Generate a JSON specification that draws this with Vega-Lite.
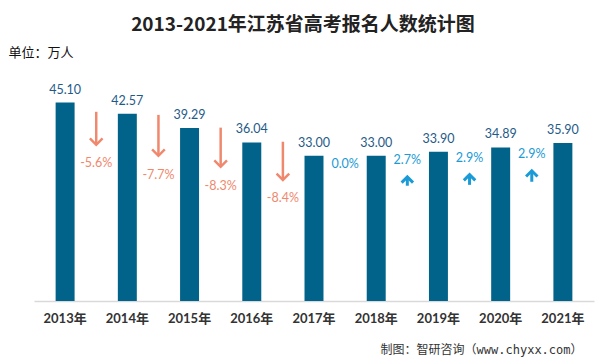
{
  "$schema": "https://vega.github.io/schema/vega-lite/v6.json",
  "width": 560,
  "height": 220,
  "autosize": {"type": "none"},
  "padding": {"left": 34, "top": 81, "right": 11, "bottom": 62},
  "background": "white",
  "title": {
    "text": "2013-2021年江苏省高考报名人数统计图",
    "anchor": "middle",
    "frame": "group",
    "dx": -11,
    "offset": 11,
    "font": "Noto Sans CJK SC",
    "fontSize": 19,
    "fontWeight": "bold",
    "color": "#222222"
  },
  "config": {"view": {"stroke": null}},
  "datasets": {
    "bars": [
      {"year": "2013年", "value": 45.10},
      {"year": "2014年", "value": 42.57},
      {"year": "2015年", "value": 39.29},
      {"year": "2016年", "value": 36.04},
      {"year": "2017年", "value": 33.00},
      {"year": "2018年", "value": 33.00},
      {"year": "2019年", "value": 33.90},
      {"year": "2020年", "value": 34.89},
      {"year": "2021年", "value": 35.90}
    ],
    "pcts": [
      {"year": "2013年", "pct": "-5.6%", "dir": "down", "ly": 31.4},
      {"year": "2014年", "pct": "-7.7%", "dir": "down", "ly": 28.7},
      {"year": "2015年", "pct": "-8.3%", "dir": "down", "ly": 26.2},
      {"year": "2016年", "pct": "-8.4%", "dir": "down", "ly": 23.4},
      {"year": "2017年", "pct": "0.0%", "dir": "up", "ly": 31.2},
      {"year": "2018年", "pct": "2.7%", "dir": "up", "ly": 32.1},
      {"year": "2019年", "pct": "2.9%", "dir": "up", "ly": 32.5},
      {"year": "2020年", "pct": "2.9%", "dir": "up", "ly": 33.4}
    ],
    "arrows": [
      {"year": "2013年", "dir": "down", "tail": 43.0, "tip": 35.5},
      {"year": "2014年", "dir": "down", "tail": 42.3, "tip": 33.0},
      {"year": "2015年", "dir": "down", "tail": 39.4, "tip": 30.5},
      {"year": "2016年", "dir": "down", "tail": 36.2, "tip": 27.5},
      {"year": "2018年", "dir": "up", "tail": 26.2, "tip": 28.2},
      {"year": "2019年", "dir": "up", "tail": 26.4, "tip": 28.7},
      {"year": "2020年", "dir": "up", "tail": 27.1, "tip": 29.6}
    ]
  },
  "layer": [
    {
      "data": {"name": "bars"},
      "mark": {"type": "bar", "width": {"band": 0.305}, "color": "#02638A"},
      "encoding": {
        "x": {
          "field": "year", "type": "nominal", "sort": null,
          "scale": {"paddingInner": 0, "paddingOuter": 0},
          "axis": {
            "title": "制图：智研咨询（www.chyxx.com）",
            "titleX": 548, "titleY": 48,
            "titleAlign": "right", "titleBaseline": "middle",
            "titleFont": "DejaVu Sans Mono, Noto Sans CJK SC",
            "titleFontSize": 12, "titleFontWeight": "normal", "titleColor": "#333333",
            "labelAngle": 0, "labelFont": "Lato, Noto Sans CJK SC",
            "labelFontSize": 13, "labelFontWeight": "bold", "labelColor": "#333333",
            "labelPadding": 11, "ticks": false,
            "domainColor": "#D9D9D9", "domainWidth": 1.5, "grid": false
          }
        },
        "y": {
          "field": "value", "type": "quantitative", "title": "单位：万人",
          "scale": {"domain": [0, 50], "nice": false},
          "axis": {
            "labels": false, "ticks": false, "domain": false, "grid": false,
            "title": "单位：万人", "titleAngle": 0, "titleX": -26, "titleY": -29,
            "titleAlign": "left", "titleBaseline": "middle",
            "titleFont": "Noto Sans CJK SC", "titleFontSize": 13,
            "titleFontWeight": "normal", "titleColor": "#111111"
          }
        }
      }
    },
    {
      "data": {"name": "bars"},
      "mark": {"type": "text", "dy": -13, "baseline": "middle", "font": "Lato", "fontSize": 12.5, "color": "#1F5B88"},
      "encoding": {
        "x": {"field": "year", "type": "nominal", "sort": null, "title": "制图：智研咨询（www.chyxx.com）"},
        "y": {"field": "value", "type": "quantitative", "title": "单位：万人"},
        "text": {"field": "value", "type": "quantitative", "format": ".2f"}
      }
    },
    {
      "data": {"name": "arrows"},
      "mark": {"type": "rule"},
      "encoding": {
        "x": {"field": "year", "type": "nominal", "sort": null, "bandPosition": 1, "title": "制图：智研咨询（www.chyxx.com）"},
        "y": {"field": "tail", "type": "quantitative", "title": "单位：万人"},
        "y2": {"field": "tip"},
        "color": {"field": "dir", "type": "nominal", "scale": {"domain": ["down", "up"], "range": ["#F0886E", "#1A9AD6"]}, "legend": null},
        "strokeWidth": {"field": "dir", "type": "nominal", "scale": {"domain": ["down", "up"], "range": [2.5, 3]}, "legend": null}
      }
    },
    {
      "data": {"name": "arrows"},
      "mark": {"type": "point", "filled": false, "opacity": 1, "strokeJoin": "miter"},
      "encoding": {
        "x": {"field": "year", "type": "nominal", "sort": null, "bandPosition": 1, "title": "制图：智研咨询（www.chyxx.com）"},
        "y": {"field": "tip", "type": "quantitative", "title": "单位：万人"},
        "shape": {"field": "dir", "type": "nominal", "scale": {"domain": ["down", "up"], "range": ["M-1,-1L0,0L1,-1", "M-1,1L0,0L1,1"]}, "legend": null},
        "size": {"field": "dir", "type": "nominal", "scale": {"domain": ["down", "up"], "range": [160, 130]}, "legend": null},
        "color": {"field": "dir", "type": "nominal", "legend": null},
        "strokeWidth": {"field": "dir", "type": "nominal", "legend": null}
      }
    },
    {
      "data": {"name": "pcts"},
      "mark": {"type": "text", "baseline": "middle", "font": "Lato", "fontSize": 12.5},
      "encoding": {
        "x": {"field": "year", "type": "nominal", "sort": null, "bandPosition": 1, "title": "制图：智研咨询（www.chyxx.com）"},
        "y": {"field": "ly", "type": "quantitative", "title": "单位：万人"},
        "text": {"field": "pct"},
        "color": {"field": "dir", "type": "nominal", "legend": null}
      }
    }
  ]
}
